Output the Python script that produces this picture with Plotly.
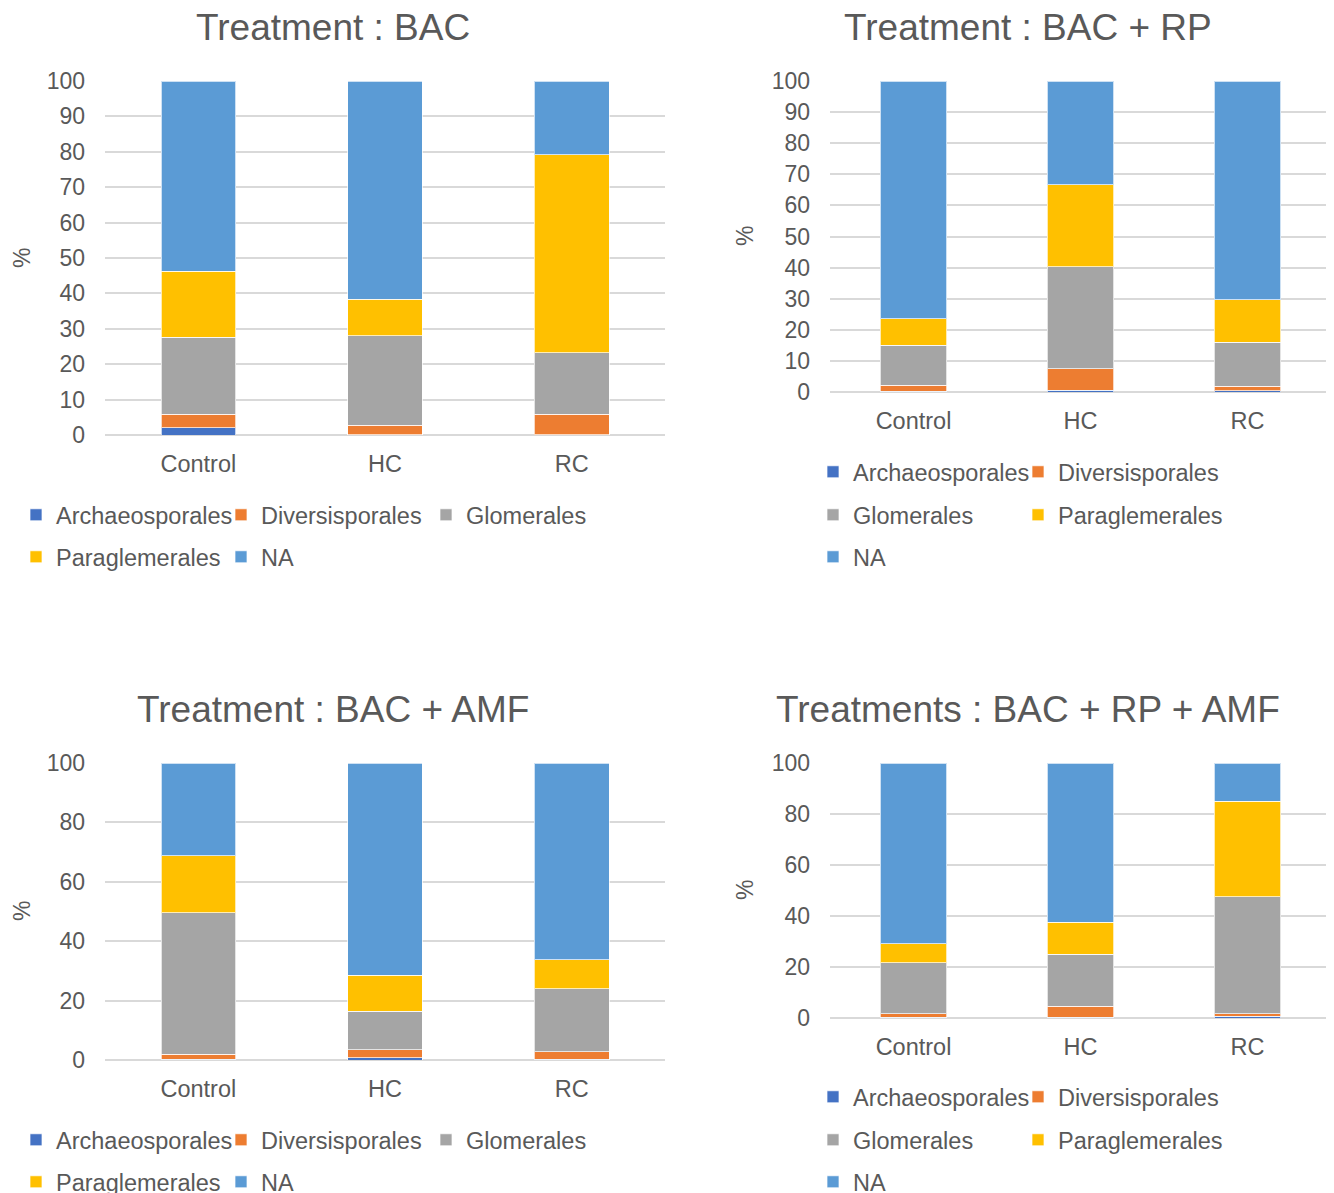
import plotly.graph_objects as go

# The page body adds an 8px margin, so the figure is sized to the visible area
OFF = 8
W, H = 1334 - OFF, 1193 - OFF

categories = ["Control", "HC", "RC"]
orders = ["Archaeosporales", "Diversisporales", "Glomerales", "Paraglemerales", "NA"]
colors = ["#4472C4", "#ED7D31", "#A5A5A5", "#FFC000", "#5B9BD5"]

# Panel 1: Treatment : BAC
bac_arch = [2.0, 0.1, 0.1]
bac_div = [3.9, 2.6, 5.8]
bac_glom = [21.7, 25.3, 17.4]
bac_para = [18.7, 10.4, 55.8]
bac_na = [53.7, 61.6, 20.9]

# Panel 2: Treatment : BAC + RP
rp_arch = [0.2, 0.5, 0.4]
rp_div = [2.0, 6.9, 1.4]
rp_glom = [12.9, 32.8, 14.2]
rp_para = [8.4, 26.4, 13.6]
rp_na = [76.5, 33.4, 70.4]

# Panel 3: Treatment : BAC + AMF
amf_arch = [0.3, 0.8, 0.2]
amf_div = [1.7, 2.6, 2.6]
amf_glom = [47.5, 13.1, 21.2]
amf_para = [19.2, 12.1, 9.8]
amf_na = [31.3, 71.4, 66.2]

# Panel 4: Treatments : BAC + RP + AMF
rpamf_arch = [0.2, 0.2, 0.7]
rpamf_div = [1.5, 4.4, 1.0]
rpamf_glom = [20.0, 20.4, 45.8]
rpamf_para = [7.4, 12.6, 37.6]
rpamf_na = [70.9, 62.4, 14.9]

titles = ["Treatment : BAC", "Treatment : BAC + RP",
          "Treatment : BAC + AMF", "Treatments : BAC + RP + AMF"]
y_dtick = [10, 10, 20, 20]

panels = [
    [bac_arch, bac_div, bac_glom, bac_para, bac_na],
    [rp_arch, rp_div, rp_glom, rp_para, rp_na],
    [amf_arch, amf_div, amf_glom, amf_para, amf_na],
    [rpamf_arch, rpamf_div, rpamf_glom, rpamf_para, rpamf_na],
]

# layout in screen pixels: (x0, x1, ytop, ybottom)
boxes = [(105, 665, 81, 435), (830, 1331, 81, 392),
         (105, 665, 763, 1060), (830, 1331, 763, 1018)]
title_pos = [(333, 27), (1028, 27), (333, 709), (1028, 709)]
pct_pos = [(22, 258), (745, 236), (22, 911), (745, 890)]

# legend entry positions (marker left x, row centre y) per series, per panel
legend_pos = [
    [(35, 515), (240, 515), (445, 515), (35, 557), (240, 557)],
    [(832, 472), (1037, 472), (832, 515), (1037, 515), (832, 557)],
    [(35, 1140), (240, 1140), (445, 1140), (35, 1182), (240, 1182)],
    [(832, 1097), (1037, 1097), (832, 1140), (1037, 1140), (832, 1182)],
]


def px_x(x):
    return (x - OFF) / W


def px_y(y):
    return 1 - (y - OFF) / H


FONT = "Arial, Liberation Sans, sans-serif"
TXT = "#595959"
GRID = "#D9D9D9"

fig = go.Figure()
layout = dict(
    width=W, height=H, margin=dict(l=0, r=0, t=0, b=0, autoexpand=False),
    paper_bgcolor="white", plot_bgcolor="white",
    barmode="stack", bargap=0.6, showlegend=True,
    font=dict(family=FONT, color=TXT, size=23),
    annotations=[],
)

legend_count = 0
for p, data in enumerate(panels):
    ax = "" if p == 0 else str(p + 1)
    x0, x1, yt, yb = boxes[p]
    layout["xaxis" + ax] = dict(
        domain=[px_x(x0), px_x(x1)], anchor="y" + ax, type="category",
        showgrid=False, showline=False, zeroline=False, ticks="",
        tickfont=dict(size=23.5, color=TXT, family=FONT), ticklabelstandoff=12,
    )
    layout["yaxis" + ax] = dict(
        domain=[px_y(yb), px_y(yt)], anchor="x" + ax, range=[0, 100],
        dtick=y_dtick[p], tick0=0, showgrid=True, gridcolor=GRID, gridwidth=1.5,
        zeroline=True, zerolinecolor=GRID, zerolinewidth=1.5, showline=False,
        ticks="", tickfont=dict(size=23, color=TXT, family=FONT), ticklabelstandoff=19,
    )
    for i, name in enumerate(orders):
        legend_count += 1
        lname = "legend" if legend_count == 1 else "legend%d" % legend_count
        mx, my = legend_pos[p][i]
        layout[lname] = dict(
            x=px_x(mx - 19), y=px_y(my), xanchor="left", yanchor="middle",
            orientation="h", bgcolor="rgba(0,0,0,0)",
            font=dict(size=23.5, color=TXT, family=FONT), itemwidth=30,
        )
        fig.add_trace(go.Bar(
            x=categories, y=data[i], name=name,
            marker=dict(color=colors[i], line=dict(color="rgba(255,255,255,0.7)", width=1)),
            xaxis="x" + ax, yaxis="y" + ax, legend=lname,
            hovertemplate=name + ": %{y}<extra></extra>",
        ))
    tx, ty = title_pos[p]
    layout["annotations"].append(dict(
        text=titles[p], x=px_x(tx), y=px_y(ty), xref="paper", yref="paper",
        xanchor="center", yanchor="middle", showarrow=False,
        font=dict(size=37, color=TXT, family=FONT),
    ))
    qx, qy = pct_pos[p]
    layout["annotations"].append(dict(
        text="%", x=px_x(qx), y=px_y(qy), xref="paper", yref="paper",
        xanchor="center", yanchor="middle", showarrow=False, textangle=-90,
        font=dict(size=23, color=TXT, family=FONT),
    ))

fig.update_layout(**layout)
fig.write_html("out.html")
